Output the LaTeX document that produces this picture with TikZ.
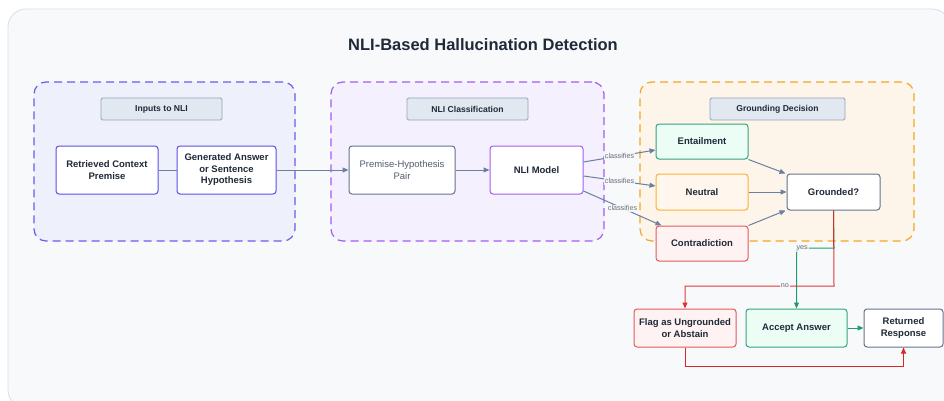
\documentclass[tikz,border=0pt]{standalone}
\usepackage{fontspec}
\setmainfont{Liberation Sans}
\usetikzlibrary{arrows.meta}

\definecolor{pagebg}{HTML}{F8F9FB}
\definecolor{pageline}{HTML}{D9DEE8}
\definecolor{ink}{HTML}{1F2937}
\definecolor{edgegray}{HTML}{6B7FA0}
\definecolor{labgray}{HTML}{6B7280}
\definecolor{indigoline}{HTML}{6A5CEB}
\definecolor{indigofill}{HTML}{EEF0FC}
\definecolor{indigonode}{HTML}{5B4DE6}
\definecolor{purpleline}{HTML}{A35CF4}
\definecolor{purplefill}{HTML}{F4F0FD}
\definecolor{orangeline}{HTML}{F5A623}
\definecolor{orangefill}{HTML}{FDF4EA}
\definecolor{tagfill}{HTML}{E2E8F0}
\definecolor{tagline}{HTML}{94A3B8}
\definecolor{slate}{HTML}{64748B}
\definecolor{greenline}{HTML}{1F9D6B}
\definecolor{greennode}{HTML}{34A57A}
\definecolor{greenfill}{HTML}{ECFDF5}
\definecolor{redline}{HTML}{DC2626}
\definecolor{rednode}{HTML}{E25B5B}
\definecolor{redfill}{HTML}{FEF2F2}
\definecolor{ambernode}{HTML}{FBB034}
\definecolor{amberfill}{HTML}{FFF7ED}

\tikzset{
  group/.style={draw, dash pattern=on 8pt off 5pt, line width=1.2pt, rounded corners=12pt, inner sep=0pt},
  tag/.style={draw=tagline, fill=tagfill, line width=0.8pt, rounded corners=1.5pt, inner sep=0pt,
    minimum height=22pt, font=\fontsize{8.6}{10}\selectfont\bfseries, text=ink},
  box/.style={draw, line width=1pt, rounded corners=3pt, inner sep=0pt, align=center,
    fill=white, text=ink, font=\fontsize{9.5}{11.5}\selectfont\bfseries},
  flow/.style={draw=edgegray, line width=1pt, -{Triangle[length=6pt,width=5pt]}},
  elabel/.style={fill=pagebg, fill opacity=0.85, text opacity=1, inner sep=1pt,
    font=\fontsize{7.2}{8}\selectfont, text=labgray},
}

\begin{document}
\begin{tikzpicture}[x=1pt,y=-1pt]
\useasboundingbox (0,0) rectangle (944,401);
\clip (0,0) rectangle (944,401);

% page panel
\draw[pageline, fill=pagebg, line width=0.8pt, rounded corners=18pt] (8,9) rectangle (950,408);
\node[font=\fontsize{16.5}{18}\selectfont\bfseries, text=ink] (title) at (483,45) {NLI-Based Hallucination Detection};

% stage containers
\node[group, draw=indigoline, fill=indigofill, minimum width=261pt, minimum height=159pt] (g1) at (164.5,161.5) {};
\node[group, draw=purpleline, fill=purplefill, minimum width=273pt, minimum height=159pt] (g2) at (467.5,161.5) {};
\node[group, draw=orangeline, fill=orangefill, minimum width=274pt, minimum height=159pt] (g3) at (777,161.5) {};

\node[tag, minimum width=121pt] (t1) at (161.5,109) {Inputs to NLI};
\node[tag, minimum width=121pt] (t2) at (467.5,109) {NLI Classification};
\node[tag, minimum width=135pt] (t3) at (777.5,109) {Grounding Decision};

% inputs
\node[box, draw=indigonode, minimum width=102pt, minimum height=48pt] (ctx) at (107,170) {Retrieved Context\\Premise};
\node[box, draw=indigonode, minimum width=99pt, minimum height=48pt] (gen) at (226.5,170) {Generated Answer\\or Sentence\\Hypothesis};

% classification
\node[box, draw=slate, minimum width=106pt, minimum height=48pt, font=\fontsize{9.5}{11.5}\selectfont, text=slate!80!black] (pair) at (402,170) {Premise-Hypothesis\\Pair};
\node[box, draw=purpleline, minimum width=93pt, minimum height=48pt] (nli) at (536.5,170) {NLI Model};

% decision
\node[box, draw=greennode, fill=greenfill, minimum width=92pt, minimum height=35pt] (ent) at (702,141.5) {Entailment};
\node[box, draw=ambernode, fill=amberfill, minimum width=92pt, minimum height=36pt] (neu) at (702,192) {Neutral};
\node[box, draw=rednode, fill=redfill, minimum width=92pt, minimum height=35pt] (con) at (702,243.5) {Contradiction};
\node[box, draw=slate, minimum width=93pt, minimum height=36pt] (gr) at (833.5,192) {Grounded?};

% outcomes
\node[box, draw=rednode, fill=redfill, minimum width=102pt, minimum height=38pt] (flag) at (685,328) {Flag as Ungrounded\\or Abstain};
\node[box, draw=greennode, fill=greenfill, minimum width=101pt, minimum height=38pt] (acc) at (796.5,328) {Accept Answer};
\node[box, draw=slate, minimum width=79pt, minimum height=38pt] (ret) at (903.5,328) {Returned\\Response};

% connectors
\draw[draw=edgegray, line width=1pt] (ctx.east) -- (gen.west);
\draw[flow] (gen.east) -- (pair.west);
\draw[flow] (pair.east) -- (nli.west);

\draw[flow] ([yshift=8pt]nli.east) -- node[elabel]{classifies} ([yshift=-8.5pt]ent.west);
\draw[flow] ([yshift=-6pt]nli.east) -- node[elabel]{classifies} ([yshift=6pt]neu.west);
\draw[flow] ([yshift=-21pt]nli.east) -- node[elabel]{classifies} ([xshift=6pt]con.north west);

\draw[flow] (ent.south east) -- ([xshift=-1pt]gr.north west);
\draw[flow] (neu.east) -- (gr.west);
\draw[flow] (con.north east) -- ([xshift=-1pt]gr.south west);

% yes / no branches
\coordinate (ybend) at (834,248);
\coordinate (nbend) at (834,286);
\draw[greenline, line width=1pt, -{Triangle[length=6pt,width=5pt]}]
  (gr.south) -- (ybend) -- node[elabel, pos=0.85]{yes} (ybend -| acc.north) -- (acc.north);
\draw[redline, line width=1pt, -{Triangle[length=6pt,width=5pt]}, opacity=0.9]
  (gr.south) -- (nbend) -- node[elabel, pos=0.33]{no} (nbend -| flag.north) -- (flag.north);

\draw[greenline, line width=1pt, -{Triangle[length=6pt,width=5pt]}] (acc.east) -- (ret.west);
\coordinate (rbend) at (685,366);
\draw[redline, line width=1pt, -{Triangle[length=6pt,width=5pt]}]
  (flag.south) -- (rbend) -- (rbend -| ret.south) -- (ret.south);
\end{tikzpicture}
\end{document}
